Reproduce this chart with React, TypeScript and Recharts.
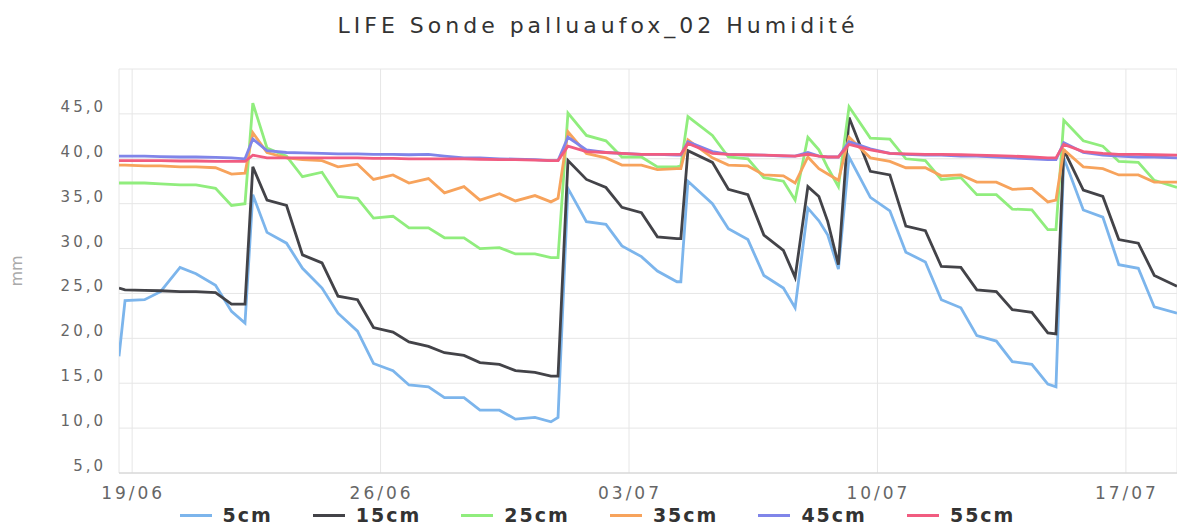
import { CartesianGrid, Line, LineChart, XAxis, YAxis } from "recharts"

// time in days since 19/06 00:00
const times = [
  -0.37, -0.2, 0.35, 0.8, 1.35, 1.8, 2.35, 2.8, 3.18, 3.4,
  3.8, 4.35, 4.8, 5.35, 5.8, 6.35, 6.8, 7.35, 7.8, 8.35,
  8.8, 9.35, 9.8, 10.35, 10.8, 11.35, 11.8, 12.0, 12.28, 12.8,
  13.35, 13.8, 14.35, 14.8, 15.35, 15.46, 15.66, 16.35, 16.8, 17.35,
  17.8, 18.35, 18.68, 19.04, 19.35, 19.6, 19.9, 20.2, 20.8, 21.35,
  21.8, 22.35, 22.8, 23.35, 23.8, 24.35, 24.8, 25.35, 25.8, 26.03,
  26.25, 26.8, 27.35, 27.8, 28.35, 28.8, 29.44,
]

const tickDays = [0, 7, 14, 21, 28]
const tickLabels = ["19/06", "26/06", "03/07", "10/07", "17/07"]
const yTicks = [5, 10, 15, 20, 25, 30, 35, 40, 45, 50]

const s5 = [
  18.0, 24.2, 24.3, 25.2, 27.9, 27.2, 25.9, 23.0, 21.7, 36.0,
  31.8, 30.6, 27.8, 25.6, 22.8, 20.8, 17.2, 16.4, 14.8, 14.6,
  13.4, 13.4, 12.0, 12.0, 11.0, 11.2, 10.7, 11.2, 36.7, 33.0,
  32.7, 30.3, 29.1, 27.5, 26.3, 26.3, 37.5, 35.0, 32.2, 31.0,
  27.0, 25.6, 23.4, 34.5, 33.1, 31.5, 27.7, 40.2, 35.7, 34.2,
  29.6, 28.5, 24.3, 23.4, 20.3, 19.7, 17.4, 17.1, 14.9, 14.6,
  40.1, 34.3, 33.5, 28.2, 27.8, 23.5, 22.8,
]
const s15 = [
  25.6, 25.4, 25.35, 25.3, 25.2, 25.2, 25.1, 23.8, 23.8, 39.1,
  35.4, 34.8, 29.3, 28.4, 24.7, 24.3, 21.2, 20.7, 19.6, 19.1,
  18.4, 18.1, 17.3, 17.1, 16.4, 16.2, 15.8, 15.8, 39.8, 37.7,
  36.8, 34.6, 34.0, 31.3, 31.1, 31.1, 40.9, 39.6, 36.6, 36.0,
  31.5, 29.8, 26.8, 36.9, 35.8, 33.0, 28.2, 44.6, 38.6, 38.2,
  32.5, 32.0, 28.0, 27.9, 25.4, 25.2, 23.2, 22.9, 20.6, 20.5,
  41.0, 36.5, 35.8, 31.0, 30.6, 27.0, 25.8,
]
const s25 = [
  37.3, 37.3, 37.3, 37.2, 37.1, 37.1, 36.7, 34.8, 35.0, 46.2,
  41.2, 40.3, 38.0, 38.5, 35.8, 35.6, 33.4, 33.6, 32.3, 32.3,
  31.2, 31.2, 30.0, 30.1, 29.4, 29.4, 29.0, 29.0, 45.1, 42.6,
  42.0, 40.2, 40.2, 39.1, 39.1, 39.2, 44.7, 42.6, 40.2, 40.0,
  37.9, 37.5, 35.4, 42.4, 41.0, 39.0, 36.9, 45.8, 42.3, 42.2,
  40.0, 39.8, 37.7, 37.9, 36.0, 36.0, 34.4, 34.3, 32.1, 32.1,
  44.3, 42.0, 41.4, 39.7, 39.6, 37.6, 36.8,
]
const s35 = [
  39.3, 39.3, 39.2, 39.2, 39.1, 39.1, 39.0, 38.3, 38.4, 42.9,
  40.7, 40.1, 39.9, 39.8, 39.1, 39.4, 37.7, 38.2, 37.3, 37.8,
  36.2, 36.9, 35.4, 36.1, 35.3, 35.9, 35.2, 35.6, 43.0, 40.6,
  40.1, 39.3, 39.3, 38.8, 38.9, 38.9, 42.1, 40.1, 39.3, 39.2,
  38.2, 38.1, 37.3, 40.2, 38.9, 38.3, 37.6, 42.4, 40.1, 39.7,
  39.0, 39.0, 38.1, 38.2, 37.4, 37.4, 36.6, 36.7, 35.2, 35.4,
  41.0, 39.1, 38.9, 38.2, 38.2, 37.4, 37.4,
]
const s45 = [
  40.3, 40.3, 40.3, 40.25, 40.2, 40.2, 40.15, 40.1, 40.0, 42.2,
  40.9, 40.7, 40.65, 40.6, 40.55, 40.55, 40.5, 40.5, 40.45, 40.5,
  40.3, 40.1, 40.1, 40.0, 39.95, 39.9, 39.8, 39.8, 42.4, 41.0,
  40.7, 40.6, 40.5, 40.5, 40.4, 40.4, 41.9, 40.8, 40.5, 40.4,
  40.4, 40.3, 40.3, 40.7, 40.3, 40.2, 40.2, 41.9, 41.1, 40.6,
  40.5, 40.4, 40.4, 40.3, 40.3, 40.2, 40.1, 40.0, 39.9, 39.9,
  41.8, 40.7, 40.4, 40.3, 40.2, 40.2, 40.1,
]
const s55 = [
  39.8, 39.8, 39.8, 39.8, 39.75, 39.75, 39.7, 39.7, 39.7, 40.4,
  40.1, 40.1, 40.1, 40.1, 40.1, 40.1, 40.05, 40.05, 40.0, 40.0,
  40.0, 40.0, 39.95, 39.9, 39.9, 39.85, 39.8, 39.8, 41.4, 40.8,
  40.7, 40.6, 40.5, 40.5, 40.5, 40.5, 41.7, 40.6, 40.5, 40.45,
  40.4, 40.35, 40.3, 40.5, 40.3, 40.2, 40.2, 41.6, 41.0, 40.6,
  40.55, 40.5, 40.5, 40.45, 40.4, 40.35, 40.3, 40.2, 40.1, 40.1,
  41.6, 40.8, 40.6, 40.5, 40.5, 40.45, 40.4,
]

const seriesNames = ["5cm", "15cm", "25cm", "35cm", "45cm", "55cm"]
const seriesValues = [s5, s15, s25, s35, s45, s55]
const colors = ["#7cb5ec", "#434348", "#90ed7d", "#f7a35c", "#8085e9", "#f15c80"]

const rows = times.map((t, i) => {
  const row: Record<string, number> = { t }
  seriesNames.forEach((name, k) => {
    row[name] = seriesValues[k][i]
  })
  return row
})

const font = "'DejaVu Sans', Verdana, sans-serif"

function XTick({ x, payload }: any) {
  const label = tickLabels[tickDays.indexOf(payload.value)]
  return (
    <text x={x + 1} y={499} textAnchor="middle" fill="#666" fontSize={17} fontFamily={font} letterSpacing={3}>
      {label}
    </text>
  )
}

function YTick({ y, payload }: any) {
  if (payload.value === 50) return null
  // labels sit a little above their grid line, right edge at x=103
  return (
    <text x={106} y={y - 2} textAnchor="end" fill="#666" fontSize={15} fontFamily={font} letterSpacing={3}>
      {payload.value.toFixed(1).replace(".", ",")}
    </text>
  )
}

export default function App() {
  return (
    <div style={{ position: "absolute", left: 0, top: 0, width: 1177, height: 529, background: "#fff", fontFamily: font, overflow: "hidden" }}>
      <LineChart width={1177} height={529} data={rows} margin={{ top: 69, right: 0, bottom: 16, left: 0 }}>
        <CartesianGrid stroke="#e6e6e6" />
        <XAxis
          dataKey="t"
          type="number"
          domain={[-0.37, 29.44]}
          ticks={tickDays}
          allowDataOverflow
          height={40}
          tick={<XTick />}
          tickLine={false}
          stroke="#d0d0d0"
        />
        <YAxis
          domain={[5, 50]}
          ticks={yTicks}
          width={119}
          axisLine={false}
          tickLine={false}
          tick={<YTick />}
        />
        {seriesNames.map((name, k) => (
          <Line
            key={name}
            type="linear"
            dataKey={name}
            stroke={colors[k]}
            strokeWidth={2.8}
            dot={false}
            isAnimationActive={false}
          />
        ))}
      </LineChart>

      <svg width={1177} height={529} style={{ position: "absolute", left: 0, top: 0, pointerEvents: "none" }}>
        <text x={598} y={33} textAnchor="middle" fill="#333" fontSize={22} fontFamily={font} letterSpacing={4}>
          LIFE Sonde palluaufox_02 Humidité
        </text>
        <text x={22} y={271} transform="rotate(-90 22 271)" textAnchor="middle" fill="#aaa" fontSize={16} fontFamily={font}>
          mm
        </text>
      </svg>

      <div style={{ position: "absolute", left: 0, top: 505, width: 1195, height: 20, display: "flex", justifyContent: "center", alignItems: "center", gap: 40 }}>
        {seriesNames.map((name, k) => (
          <div key={name} style={{ display: "flex", alignItems: "center" }}>
            <span style={{ display: "inline-block", width: 32, height: 3, background: colors[k], marginRight: 11 }} />
            <span style={{ fontWeight: "bold", fontSize: 19, color: "#333", letterSpacing: 2, lineHeight: "20px" }}>{name}</span>
          </div>
        ))}
      </div>
    </div>
  )
}
